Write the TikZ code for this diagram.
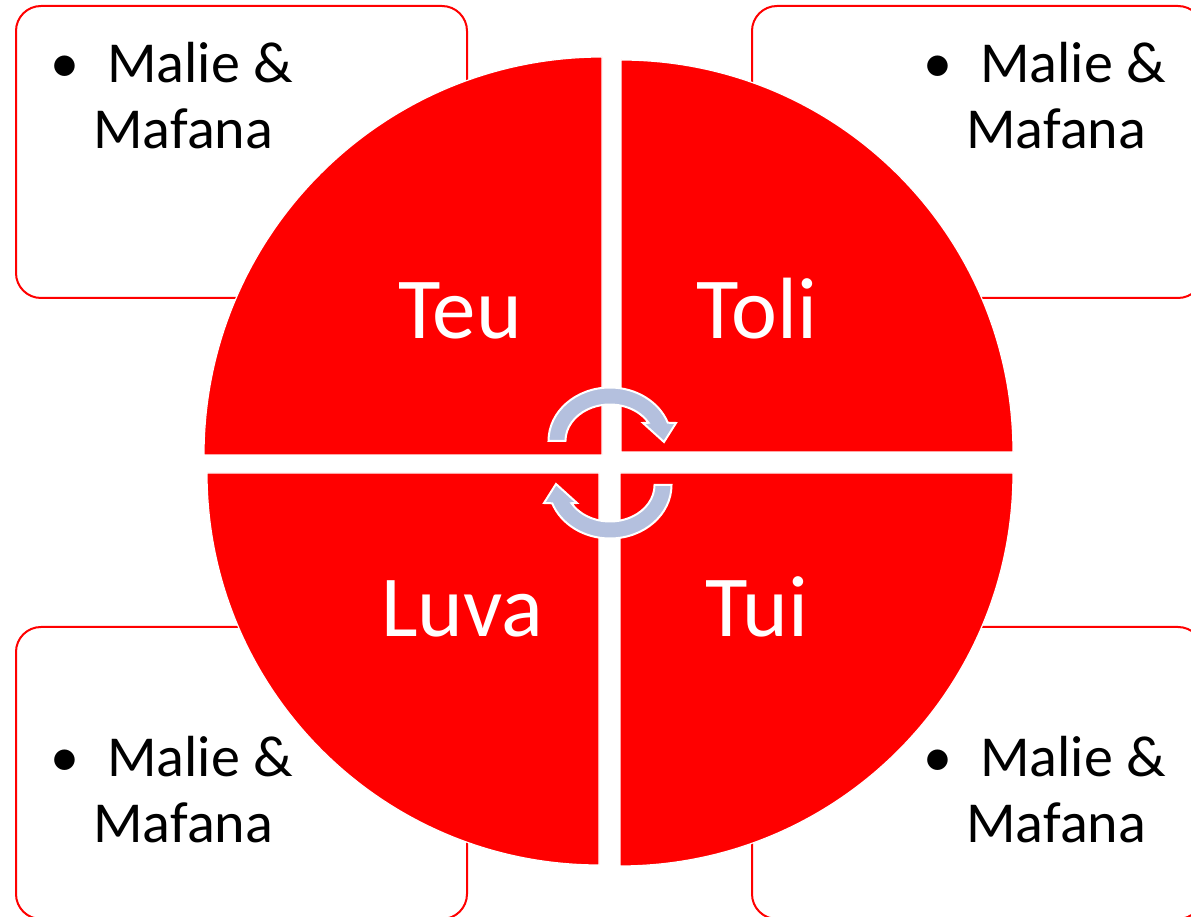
\documentclass[tikz,border=0pt]{standalone}
\usepackage{fontspec}
\setmainfont{Carlito}
\usepackage{xcolor}
\usepackage{tikz}
\definecolor{pieRed}{RGB}{255,0,0}
\definecolor{arrowBlue}{RGB}{180,192,222}
\tikzset{
  infobox/.style   = {rectangle, draw=pieRed, fill=white, line width=1pt,
                      rounded corners=12.5pt, minimum width=225.5pt, minimum height=146pt, inner sep=0pt},
  infotext/.style  = {anchor=base west, align=left, inner sep=0pt, font=\fontsize{29}{33}\selectfont},
  slice/.style     = {fill=pieRed, draw=white, line width=0.6pt},
  slicelabel/.style= {anchor=base, text=white, inner sep=0pt, font=\fontsize{43.5}{52}\selectfont},
  cycarrow/.style  = {fill=arrowBlue, draw=white, line width=1pt},
}

\begin{document}
\begin{tikzpicture}[x=0.5pt, y=0.5pt]
    \useasboundingbox (0,0) rectangle (1191,917);

    %% Text boxes behind the pie
    \foreach \pos/\bx/\by/\tx/\ty in {
      tl/241.5/765/50/768,
      tr/977.5/765/923/768,
      bl/241.5/144/50/74,
      br/977.5/144/923/74}
    {
      \node[infobox] (box-\pos) at (\bx,\by) {};
      \node[infotext] (txt-\pos) at (\tx,\ty) {\textbullet\hspace{14pt}Malie \&\\\hspace*{21.5pt}Mafana};
    }

    %% Pie quadrants
    \foreach \cx/\cy/\a/\r in {602/462/180/398, 621/465/90/392, 620/444/0/393, 599/444/270/392}
      \draw[slice] (\cx,\cy) -- ++(\a:\r) arc[start angle=\a, end angle=\a-90, radius=\r] -- cycle;

    %% Quadrant labels
    \node[slicelabel] (teu)  at (460,578) {Teu};
    \node[slicelabel] (toli) at (757,578) {Toli};
    \node[slicelabel] (luva) at (462,280) {Luva};
    \node[slicelabel] (tui)  at (757,280) {Tui};

    %% Cycle arrows in the middle
    \coordinate (hub) at (610,454);
    \foreach \rot in {0,180}
    {
      \begin{scope}[shift={(hub)}, rotate=\rot]
        \draw[cycarrow] (-61.5,22) arc[start angle=180, end angle=20, x radius=61.5, y radius=53.5]
          -- (66,40) -- (54,21) -- (33,40) -- (38.5,40.25)
          arc[start angle=30, end angle=180, x radius=44.5, y radius=36.5] -- cycle;
      \end{scope}
    }

\end{tikzpicture}
\end{document}
